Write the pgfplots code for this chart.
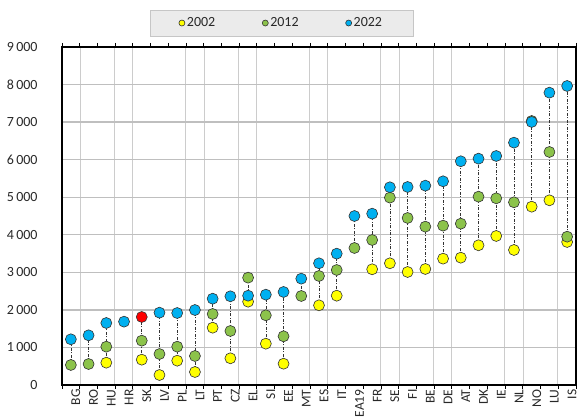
\documentclass[border=0pt]{standalone}
\usepackage{fontspec}
\setmainfont{Carlito}
\usepackage{pgfplots}
\pgfplotsset{compat=1.18}
\usepackage{pgfplotstable}
\usetikzlibrary{calc}
\definecolor{cyel}{RGB}{255,255,0}
\definecolor{cgrn}{RGB}{140,195,75}
\definecolor{cblu}{RGB}{0,176,240}
\definecolor{cred}{RGB}{255,0,0}
\definecolor{ctxt}{RGB}{40,40,40}

\pgfplotstableread{
x  y02   y12   y22
0  nan   533   1217
1  nan   559   1323
2  594   1020  1651
3  nan   nan   1686
4  674   1180  nan
5  266   825   1926
6  647   1020  1917
7  346   772   1997
8  1526  1891  2298
9  711   1438  2362
10 2218  2858  2378
11 1100  1856  2405
12 567   1297  2477
13 nan   2370  2831
14 2122  2903  3241
15 2378  3062  3497
16 nan   3648  4500
17 3081  3861  4562
18 3241  4989  5265
19 3009  4447  5273
20 3089  4216  5308
21 3364  4243  5424
22 3390  4296  5957
23 3720  5015  6027
24 3968  4971  6098
25 3595  4865  6453
26 4748  7030  7004
27 4918  6205  7784
28 3808  3949  7962
}\datatable

\begin{document}
\begin{tikzpicture}
\begin{axis}[
  name=ax,
  scale only axis,
  width=514bp, height=338bp,
  xmin=-0.5, xmax=28.5,
  ymin=0, ymax=9000,
  enlargelimits=false,
  xtick={0,...,28},
  xticklabels={BG,RO,HU,HR,SK,LV,PL,LT,PT,CZ,EL,SI,EE,MT,ES,IT,EA19,FR,SE,FI,BE,DE,AT,DK,IE,NL,NO,LU,IS},
  minor xtick={-0.5,0.5,...,28.5},
  ytick={0,1000,...,9000},
  xminorgrids, ymajorgrids,
  major x tick style={draw=none},
  major y tick style={draw=none},
  minor tick length=4bp,
  tick align=outside,
  minor x tick style={black, line width=1bp},
  minor grid style={draw=gray!40, line width=0.45bp, double=white, double distance=0.7bp},
  major grid style={draw=gray!50, line width=1.4bp},
  axis line style={black, line width=1.5bp},
  tick label style={font=\fontsize{14bp}{16bp}\selectfont, text=ctxt},
  xticklabel style={rotate=90, anchor=east, inner sep=0pt, yshift=-5bp, font=\fontsize{13.5bp}{15bp}\selectfont},
  yticklabel style={anchor=east, inner sep=0pt, xshift=-20bp},
  /pgf/number format/assume math mode=true,
  /pgf/number format/1000 sep={\,},
  legend columns=3,
  legend style={at={(0.427,1)}, anchor=south, yshift=11bp,
    draw=gray!45, fill=gray!16, inner xsep=29bp, inner ysep=5.5bp,
    font=\fontsize{14bp}{16bp}\selectfont, text=ctxt,
    /tikz/every even column/.append style={column sep=45bp}},
  legend image post style={mark size=3bp},
  unbounded coords=jump,
]
% connecting dash-dot lines
\addplot[forget plot, black!80, line width=0.6bp, dash pattern=on 3bp off 1.5bp on 1bp off 1.5bp] coordinates {
(0,533) (0,1217) (0.5,nan)
(1,559) (1,1323) (1.5,nan)
(2,594) (2,1651) (2.5,nan)
(4,674) (4,1811) (4.5,nan)
(5,266) (5,1926) (5.5,nan)
(6,647) (6,1917) (6.5,nan)
(7,346) (7,1997) (7.5,nan)
(8,1526) (8,2298) (8.5,nan)
(9,711) (9,2362) (9.5,nan)
(10,2218) (10,2858) (10.5,nan)
(11,1100) (11,2405) (11.5,nan)
(12,567) (12,2477) (12.5,nan)
(13,2370) (13,2831) (13.5,nan)
(14,2122) (14,3241) (14.5,nan)
(15,2378) (15,3497) (15.5,nan)
(16,3648) (16,4500) (16.5,nan)
(17,3081) (17,4562) (17.5,nan)
(18,3241) (18,5265) (18.5,nan)
(19,3009) (19,5273) (19.5,nan)
(20,3089) (20,5308) (20.5,nan)
(21,3364) (21,5424) (21.5,nan)
(22,3390) (22,5957) (22.5,nan)
(23,3720) (23,6027) (23.5,nan)
(24,3968) (24,6098) (24.5,nan)
(25,3595) (25,6453) (25.5,nan)
(26,4748) (26,7004) (26.5,nan)
(27,4918) (27,7784) (27.5,nan)
(28,3808) (28,7962)
};
\addplot[only marks, mark=*, mark size=5.5bp, mark options={fill=cyel, draw=black!80, line width=0.6bp}] table[x=x, y=y02] {\datatable};
\addlegendentry{2002}
\addplot[only marks, mark=*, mark size=5.5bp, mark options={fill=cgrn, draw=black!80, line width=0.6bp}] table[x=x, y=y12] {\datatable};
\addlegendentry{2012}
\addplot[only marks, mark=*, mark size=5.5bp, mark options={fill=cblu, draw=black!80, line width=0.6bp}] table[x=x, y=y22] {\datatable};
\addlegendentry{2022}
\addplot[forget plot, only marks, mark=*, mark size=5.5bp, mark options={fill=cred, draw=black!80, line width=0.6bp}] coordinates {(4,1811)};
\coordinate (sw) at (rel axis cs:0,0);
\coordinate (ne) at (rel axis cs:1,1);
\end{axis}
\pgfresetboundingbox
\path ($(sw)+(-62bp,-34bp)$) rectangle ($(ne)+(3bp,47bp)$);
\end{tikzpicture}
\end{document}
